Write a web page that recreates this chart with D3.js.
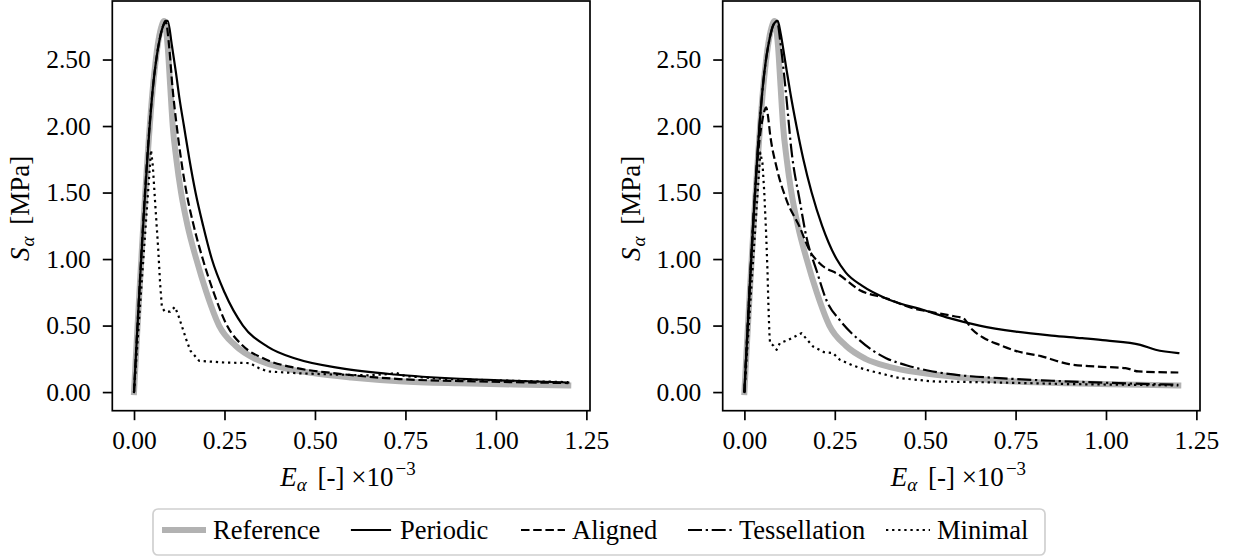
<!DOCTYPE html>
<html><head><meta charset="utf-8">
<script src="https://cdn.jsdelivr.net/npm/d3@7"></script>
<style>
body{margin:0;background:#fff}
svg text{font-family:'Liberation Serif','Times New Roman',Times,serif !important;fill:#000}
</style>
</head><body>
<svg id="chart" width="1237" height="558" font-family="Liberation Serif, serif"></svg>
<script>
// ---------- data (E in 1e-3, S in MPa) ----------
const xTickValues = [0, 0.25, 0.5, 0.75, 1.0, 1.25];
const yTickValues = [0, 0.5, 1.0, 1.5, 2.0, 2.5];
const seriesNames = ["Reference", "Periodic", "Aligned", "Tessellation", "Minimal"];

const referenceCurve = [[0,0],[0.055,2.37],[0.065,2.6],[0.075,2.74],[0.083,2.79],[0.093,2.6],[0.1,2.3],[0.107,2.0],[0.117,1.75],[0.13,1.5],[0.148,1.25],[0.172,1.0],[0.2,0.75],[0.235,0.5],[0.28,0.35],[0.335,0.25],[0.4,0.19],[0.494,0.143],[0.6,0.11],[0.733,0.082],[0.9,0.066],[1.05,0.057],[1.2,0.05]];

const periodicLeft = [[0,0],[0.055,2.36],[0.07,2.64],[0.08,2.75],[0.087,2.79],[0.093,2.79],[0.105,2.6],[0.116,2.4],[0.126,2.2],[0.138,2.0],[0.153,1.75],[0.17,1.5],[0.191,1.25],[0.215,1.0],[0.25,0.75],[0.301,0.5],[0.37,0.34],[0.448,0.25],[0.57,0.18],[0.72,0.132],[0.9,0.1],[1.05,0.085],[1.2,0.072]];
const alignedLeft = [[0,0],[0.055,2.36],[0.07,2.64],[0.08,2.75],[0.088,2.78],[0.097,2.6],[0.106,2.3],[0.118,2.0],[0.13,1.75],[0.145,1.5],[0.165,1.25],[0.19,1.0],[0.22,0.75],[0.257,0.5],[0.3,0.35],[0.36,0.25],[0.45,0.18],[0.55,0.143],[0.733,0.098],[0.95,0.08],[1.2,0.068]];
const minimalLeft = [[0,0],[0.047,1.82],[0.052,1.7],[0.058,1.44],[0.067,1.07],[0.072,0.82],[0.077,0.64],[0.085,0.605],[0.1,0.605],[0.113,0.64],[0.122,0.58],[0.145,0.39],[0.156,0.31],[0.18,0.235],[0.25,0.222],[0.32,0.218],[0.345,0.18],[0.37,0.155],[0.45,0.142],[0.55,0.132],[0.65,0.126],[0.7,0.135],[0.725,0.143],[0.75,0.12],[0.85,0.1],[1.0,0.088],[1.2,0.075]];

const periodicRight = [[0,0],[0.055,2.4],[0.07,2.66],[0.08,2.76],[0.092,2.79],[0.1,2.7],[0.112,2.5],[0.127,2.25],[0.144,2.0],[0.163,1.75],[0.186,1.5],[0.215,1.25],[0.255,1.0],[0.28,0.9],[0.325,0.8],[0.395,0.7],[0.5,0.613],[0.567,0.556],[0.65,0.5],[0.751,0.455],[0.85,0.425],[0.934,0.405],[1.0,0.388],[1.095,0.355],[1.137,0.318],[1.2,0.293]];
const alignedRight = [[0,0],[0.042,1.9],[0.05,2.05],[0.056,2.12],[0.06,2.14],[0.065,2.08],[0.071,1.94],[0.089,1.69],[0.117,1.44],[0.153,1.24],[0.181,1.06],[0.208,0.968],[0.263,0.88],[0.318,0.768],[0.392,0.705],[0.466,0.63],[0.521,0.6],[0.58,0.57],[0.605,0.555],[0.63,0.47],[0.66,0.41],[0.705,0.355],[0.75,0.31],[0.82,0.27],[0.898,0.21],[0.971,0.192],[1.054,0.18],[1.09,0.155],[1.2,0.147]];
const tessellationRight = [[0,0],[0.055,2.4],[0.07,2.66],[0.08,2.76],[0.09,2.79],[0.1,2.62],[0.11,2.38],[0.117,2.19],[0.13,1.82],[0.153,1.44],[0.172,1.16],[0.2,0.91],[0.227,0.69],[0.264,0.54],[0.318,0.39],[0.392,0.255],[0.45,0.2],[0.521,0.155],[0.6,0.125],[0.705,0.105],[0.85,0.085],[1.0,0.07],[1.2,0.055]];
const minimalRight = [[0,0],[0.044,1.8],[0.05,1.72],[0.055,1.5],[0.06,1.2],[0.064,0.9],[0.066,0.69],[0.069,0.45],[0.071,0.368],[0.08,0.35],[0.089,0.318],[0.098,0.368],[0.12,0.39],[0.158,0.443],[0.19,0.342],[0.22,0.3],[0.245,0.293],[0.264,0.243],[0.3,0.2],[0.337,0.167],[0.429,0.105],[0.521,0.08],[0.7,0.072],[0.9,0.06],[1.2,0.05]];

// ---------- styles ----------
const styles = {
  Reference:    {stroke:"#b2b2b2", width:6,   dash:null,             cap:"square"},
  Periodic:     {stroke:"#000",    width:2.2, dash:null,             cap:"square"},
  Aligned:      {stroke:"#000",    width:2.2, dash:"8.5,3.7",        cap:"butt"},
  Tessellation: {stroke:"#000",    width:2.2, dash:"14,3.7,2.3,3.7", cap:"butt"},
  Minimal:      {stroke:"#000",    width:2.2, dash:"2.3,3.8",        cap:"butt"}
};
const FONT = "'Liberation Serif', 'Times New Roman', serif";

const svg = d3.select("#chart");
const panels = [
  {x0:112.3, x1:590, series:[["Reference",referenceCurve],["Periodic",periodicLeft],["Aligned",alignedLeft],["Minimal",minimalLeft]]},
  {x0:722.7, x1:1200, series:[["Reference",referenceCurve],["Periodic",periodicRight],["Aligned",alignedRight],["Tessellation",tessellationRight],["Minimal",minimalRight]]}
];
const yTop = 1, yBot = 410.7;

panels.forEach(p => {
  const x = d3.scaleLinear().domain([-0.06, 1.26]).range([p.x0, p.x1]);
  const y = d3.scaleLinear().domain([-0.14, 2.94]).range([yBot, yTop]);
  const g = svg.append("g");

  p.series.forEach(([name, data]) => {
    const st = styles[name];
    const line = d3.line().x(d => x(d[0])).y(d => y(d[1]))
      .curve(name === "Minimal" ? d3.curveLinear : d3.curveMonotoneX);
    g.append("path").datum(data)
      .attr("d", line)
      .attr("fill", "none")
      .attr("stroke", st.stroke)
      .attr("stroke-width", st.width)
      .attr("stroke-linecap", st.cap)
      .attr("stroke-linejoin", "round")
      .attr("stroke-dasharray", st.dash);
  });

  const xAxis = g.append("g").attr("transform", `translate(0,${yBot})`)
    .call(d3.axisBottom(x).tickValues(xTickValues).tickFormat(d3.format(".2f")).tickSize(9.5).tickPadding(11).tickSizeOuter(0));
  const yAxis = g.append("g").attr("transform", `translate(${p.x0},0)`)
    .call(d3.axisLeft(y).tickValues(yTickValues).tickFormat(d3.format(".2f")).tickSize(9.5).tickPadding(12).tickSizeOuter(0));
  [xAxis, yAxis].forEach(a => {
    a.attr("font-family", FONT).attr("font-size", 25);
    a.select(".domain").remove();
    a.selectAll(".tick line").attr("stroke", "#000").attr("stroke-width", 1.7);
    a.selectAll(".tick text").style("font-family", FONT).style("font-size", "25.5px").attr("fill", "#000");
  });

  g.append("rect").attr("x", p.x0).attr("y", yTop).attr("width", p.x1 - p.x0).attr("height", yBot - yTop)
    .attr("fill", "none").attr("stroke", "#000").attr("stroke-width", 1.7);

  // x label: E_alpha [-] x10^-3
  const xl = g.append("text").attr("x", p.x0 + 168).attr("y", 486)
    .attr("text-anchor", "start").style("font-family", FONT).style("font-size", "27px");
  xl.append("tspan").attr("font-style", "italic").text("E");
  xl.append("tspan").attr("font-style", "italic").style("font-size", "19px").attr("dy", 5).text("α");
  xl.append("tspan").attr("dy", -5).attr("dx", 4).text(" [-] ×10");
  xl.append("tspan").style("font-size", "19px").attr("dy", -11).attr("dx", 2).text("−3");

  // y label: S_alpha [MPa]
  const yl = g.append("text").attr("transform", `translate(${p.x0 - 83},261) rotate(-90)`)
    .attr("text-anchor", "start").style("font-family", FONT).style("font-size", "27px");
  yl.append("tspan").attr("font-style", "italic").text("S");
  yl.append("tspan").attr("font-style", "italic").style("font-size", "19px").attr("dy", 5).attr("dx", 1).text("α");
  yl.append("tspan").attr("dy", -5).attr("dx", 5).text(" [MPa]");
});

const legend = svg.append("g");
legend.append("rect").attr("x", 153).attr("y", 509).attr("width", 892).attr("height", 46)
  .attr("rx", 5).attr("fill", "#fff").attr("stroke", "#d0d0d0").attr("stroke-width", 1.7);
const legendTextX = [213, 400, 572, 739, 937];
seriesNames.forEach((name, i) => {
  const st = styles[name];
  const tx = legendTextX[i];
  const sq = st.cap === "square" ? 3 : 0;
  legend.append("line").attr("x1", tx - 51 + sq).attr("x2", tx - 7 - sq)
    .attr("y1", 530).attr("y2", 530)
    .attr("stroke", st.stroke).attr("stroke-width", st.width)
    .attr("stroke-linecap", st.cap).attr("stroke-dasharray", st.dash);
  legend.append("text").attr("x", tx).attr("y", 539)
    .style("font-family", FONT).style("font-size", "26.5px").text(name);
});
</script>
</body></html>
